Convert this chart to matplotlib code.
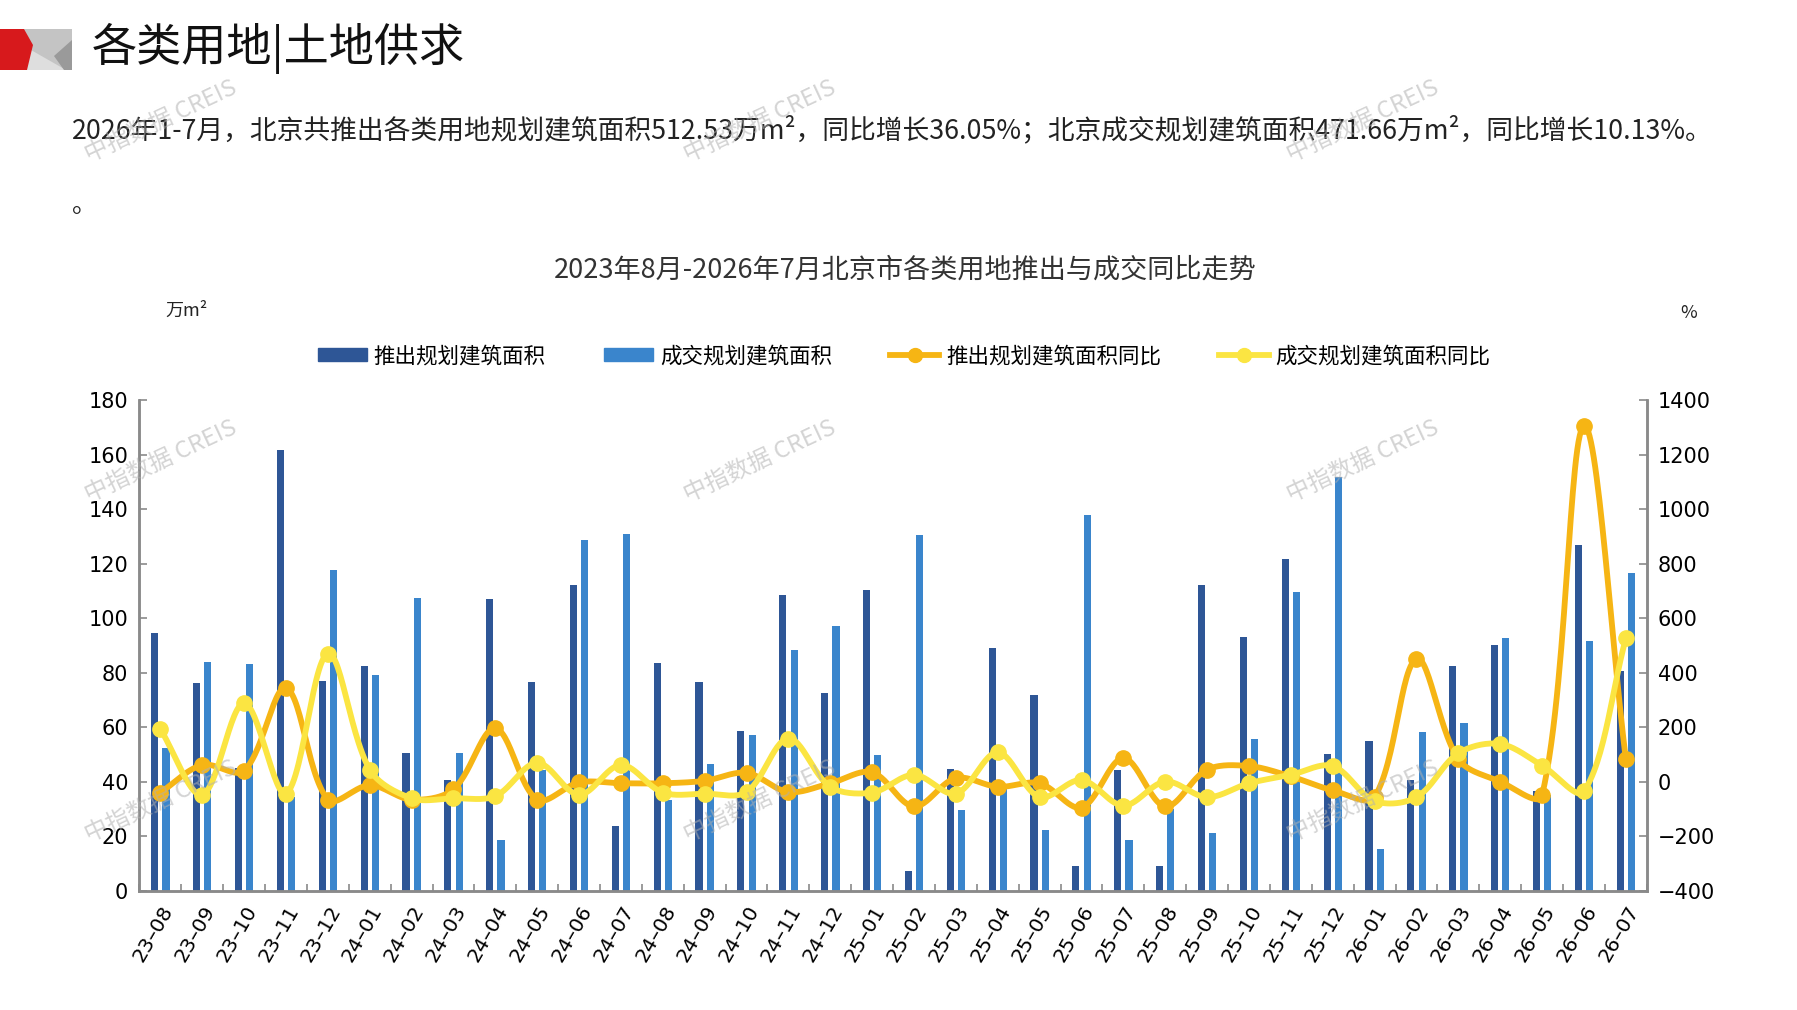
import numpy as np
import matplotlib
matplotlib.use('Agg')
import matplotlib.pyplot as plt
import matplotlib.patches as patches
from matplotlib.lines import Line2D

plt.rcParams['font.family'] = ['Noto Sans CJK SC', 'DejaVu Sans']

# data
months = ['23-08', '23-09', '23-10', '23-11', '23-12',
          '24-01', '24-02', '24-03', '24-04', '24-05', '24-06',
          '24-07', '24-08', '24-09', '24-10', '24-11', '24-12',
          '25-01', '25-02', '25-03', '25-04', '25-05', '25-06',
          '25-07', '25-08', '25-09', '25-10', '25-11', '25-12',
          '26-01', '26-02', '26-03', '26-04', '26-05', '26-06', '26-07']
supply_area = [94.6, 76.4, 45.0, 161.5, 76.9, 82.5, 50.6, 40.7, 107.2, 76.8, 112.0, 24.0,
               83.6, 76.7, 58.6, 108.4, 72.5, 110.3, 7.3, 44.8, 89.0, 71.8, 9.1, 44.3,
               9.1, 112.0, 93.0, 121.6, 50.4, 55.1, 40.7, 82.6, 90.2, 36.6, 126.7, 80.8]
deal_area = [52.3, 83.9, 83.2, 34.4, 117.5, 79.2, 107.3, 50.6, 18.8, 44.5, 128.5, 131.0,
             33.2, 46.4, 57.1, 88.3, 97.2, 49.8, 130.6, 29.8, 38.0, 22.2, 138.0, 18.7,
             30.0, 21.4, 55.6, 109.7, 151.7, 15.5, 58.4, 61.7, 92.8, 35.1, 91.6, 116.4]
supply_yoy = [-39, 62, 41, 344, -65, -12, -65, -27, 196, -65, -2, -5,
              -5, 4, 33, -37, -5, 35, -90, 14, -18, -5, -94, 87,
              -90, 45, 58, 20, -31, -55, 451, 83, 1, -49, 1305, 83]
deal_yoy = [193, -47, 289, -43, 470, 45, -60, -60, -52, 70, -47, 62,
            -39, -43, -37, 159, -18, -39, 26, -43, 108, -56, 7, -87,
            1, -56, -5, 26, 58, -70, -56, 105, 139, 60, -35, 526]

c_dark = '#2E5696'
c_light = '#3A85CC'
c_orange = '#F6B514'
c_yellow = '#FBE542'
c_axis = '#8A8A8A'


def smooth(xs, ys, n=30, kx=41.9, ky=491 / 1800):
    # office-style smoothed line: control points scaled by segment length (screen space)
    p = np.column_stack([np.asarray(xs) * kx, np.asarray(ys) * ky]).astype(float)
    out = []
    for i in range(len(p) - 1):
        p0 = p[i - 1] if i > 0 else p[i]
        p1, p2 = p[i], p[i + 1]
        p3 = p[i + 2] if i + 2 < len(p) else p[i + 1]
        d01 = np.linalg.norm(p1 - p0)
        d12 = np.linalg.norm(p2 - p1)
        d23 = np.linalg.norm(p3 - p2)
        c1 = p1 + (p2 - p0) * (d12 / (d01 + d12)) / 3 if d01 > 0 else p1 + (p2 - p1) / 3
        c2 = p2 - (p3 - p1) * (d12 / (d12 + d23)) / 3 if d23 > 0 else p2 - (p2 - p1) / 3
        t = np.linspace(0, 1, n)[:, None]
        seg = ((1 - t) ** 3) * p1 + 3 * ((1 - t) ** 2) * t * c1 + 3 * (1 - t) * t ** 2 * c2 + t ** 3 * p2
        out.append(seg if i == 0 else seg[1:])
    out = np.vstack(out)
    return out[:, 0] / kx, out[:, 1] / ky


fig = plt.figure(figsize=(17.97, 10.10), dpi=100)

# header logo
logo = fig.add_axes([0, 0, 1, 1])
logo.set_xlim(0, 1797)
logo.set_ylim(1010, 0)
logo.axis('off')
logo.add_patch(patches.Rectangle((24, 29), 48, 41, facecolor='#c4c4c4', edgecolor='none'))
logo.add_patch(patches.Polygon([(24, 46), (24, 70), (66, 70)], facecolor='#dedede', edgecolor='none'))
logo.add_patch(patches.Polygon([(72, 40), (72, 70), (64, 70), (54, 56)], facecolor='#9a9a9a', edgecolor='none'))
logo.add_patch(patches.Polygon([(0, 29), (24, 29), (33, 45), (27, 70), (0, 70)], facecolor='#D7191C', edgecolor='none'))

fig.text(0.051, 0.952, '各类用地|土地供求', fontsize=32.5, va='center', ha='left', color='#111111')
fig.text(0.040, 0.871,
         '2026年1-7月，北京共推出各类用地规划建筑面积512.53万m²，同比增长36.05%；'
         '北京成交规划建筑面积471.66万m²，同比增长10.13%。',
         fontsize=19.3, va='center', ha='left', color='#222222')
fig.text(0.040, 0.797, '。', fontsize=18, va='center', ha='left', color='#222222')

fig.text(0.504, 0.733, '2023年8月-2026年7月北京市各类用地推出与成交同比走势',
         fontsize=19.5, va='center', ha='center', color='#333333')
fig.text(0.104, 0.692, '万m²', fontsize=13, va='center', ha='center', color='#222222')
fig.text(0.9395, 0.690, '%', fontsize=13, va='center', ha='center', color='#222222')

# watermarks
for wx in (161, 760, 1363):
    for wy in (121, 461, 801):
        fig.text(wx / 1797, 1 - wy / 1010, '中指数据 CREIS', fontsize=17, rotation=25,
                 color='#b0b0b0', alpha=0.55, ha='center', va='center')

ax = fig.add_axes([0.0776, 0.1178, 0.8388, 0.4862])
x = np.arange(len(months))
ax.bar(x - 0.135, supply_area, width=0.17, color=c_dark, zorder=2)
ax.bar(x + 0.135, deal_area, width=0.17, color=c_light, zorder=2)
ax.set_xlim(-0.5, len(months) - 0.5)
ax.set_ylim(0, 180)
ax.set_yticks(np.arange(0, 181, 20))
ax.set_xticks(x)
ax.set_xticklabels([m.replace('-', '–') for m in months], rotation=60, ha='right',
                   rotation_mode='anchor', fontsize=14.5, family=['DejaVu Sans'])
ax.set_xticks(np.arange(-0.5, len(months), 1), minor=True)
ax.tick_params(axis='x', which='major', length=0, pad=8)
ax.tick_params(axis='x', which='minor', direction='in', length=5, color=c_axis, width=1.2)
ax.tick_params(axis='y', direction='in', length=6, color=c_axis, width=1.2, labelsize=15, pad=8)
for lbl in ax.get_yticklabels():
    lbl.set_family(['DejaVu Sans'])
ax.spines['top'].set_visible(False)
for s in ('left', 'right', 'bottom'):
    ax.spines[s].set_color(c_axis)
    ax.spines[s].set_linewidth(1.8)

ax2 = ax.twinx()
ax2.set_ylim(-400, 1400)
ax2.set_yticks(np.arange(-400, 1401, 200))
ax2.tick_params(axis='y', direction='in', length=6, color=c_axis, width=1.2, labelsize=15, pad=8)
for lbl in ax2.get_yticklabels():
    lbl.set_family(['DejaVu Sans'])
ax2.spines['top'].set_visible(False)
for s in ('left', 'right', 'bottom'):
    ax2.spines[s].set_color(c_axis)
    ax2.spines[s].set_linewidth(1.8)

sx, sy = smooth(x, supply_yoy)
ax2.plot(sx, sy, color=c_orange, lw=4.2, solid_capstyle='round', zorder=3)
ax2.plot(x, supply_yoy, 'o', color=c_orange, ms=11, zorder=3)
dx, dy = smooth(x, deal_yoy)
ax2.plot(dx, dy, color=c_yellow, lw=4.2, solid_capstyle='round', zorder=4)
ax2.plot(x, deal_yoy, 'o', color=c_yellow, ms=11, zorder=4)

handles = [patches.Patch(color=c_dark), patches.Patch(color=c_light),
           Line2D([], [], color=c_orange, lw=4.2, marker='o', ms=10),
           Line2D([], [], color=c_yellow, lw=4.2, marker='o', ms=10)]
labels = ['推出规划建筑面积', '成交规划建筑面积', '推出规划建筑面积同比', '成交规划建筑面积同比']
fig.legend(handles, labels, loc='center', bbox_to_anchor=(0.503, 0.6475), ncol=4,
           frameon=False, fontsize=15.5, handlelength=2.3, handleheight=0.6,
           columnspacing=2.7, handletextpad=0.3)

fig.savefig('out.png', dpi=100)
